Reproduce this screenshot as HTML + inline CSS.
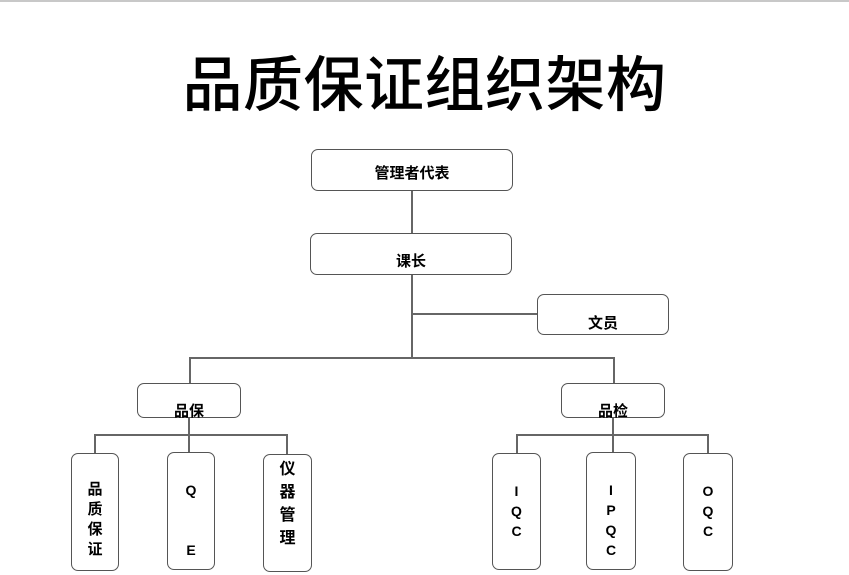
<!DOCTYPE html>
<html><head><meta charset="utf-8"><style>
body{margin:0;width:849px;height:575px;background:#fff;overflow:hidden;position:relative;font-family:"Liberation Sans","Noto Sans CJK SC",sans-serif}
.t{position:absolute;left:0;top:50px;width:849px;text-align:center;font-size:60px;line-height:62px;letter-spacing:0.5px;font-family:"Noto Sans CJK SC",sans-serif;font-weight:500}
.b{position:absolute;border:1.5px solid #555;border-radius:7px;box-sizing:border-box;background:#fff}
.l{position:absolute;background:#666}
.x{position:absolute;font-weight:bold;font-size:15px;text-align:center}
</style></head><body>
<div style="position:absolute;left:0;top:0;width:849px;height:2px;background:#c8c8c8"></div>
<div class="t">品质保证组织架构</div>
<div class="l" style="left:411px;top:191px;width:2px;height:42px"></div>
<div class="l" style="left:411px;top:275px;width:2px;height:84px"></div>
<div class="l" style="left:411px;top:313px;width:127px;height:2px"></div>
<div class="l" style="left:189px;top:357px;width:426px;height:2px"></div>
<div class="l" style="left:189px;top:357px;width:2px;height:26px"></div>
<div class="l" style="left:613px;top:357px;width:2px;height:26px"></div>
<div class="l" style="left:188px;top:418px;width:2px;height:35px"></div>
<div class="l" style="left:94px;top:434px;width:194px;height:2px"></div>
<div class="l" style="left:94px;top:434px;width:2px;height:20px"></div>
<div class="l" style="left:286px;top:434px;width:2px;height:20px"></div>
<div class="l" style="left:612px;top:418px;width:2px;height:35px"></div>
<div class="l" style="left:516px;top:434px;width:193px;height:2px"></div>
<div class="l" style="left:516px;top:434px;width:2px;height:20px"></div>
<div class="l" style="left:707px;top:434px;width:2px;height:20px"></div>
<div class="b" style="left:311px;top:149px;width:202px;height:42px"></div>
<div class="x" style="left:311px;top:162px;width:202px">管理者代表</div>
<div class="b" style="left:310px;top:233px;width:202px;height:42px"></div>
<div class="x" style="left:310px;top:250px;width:202px">课长</div>
<div class="b" style="left:537px;top:294px;width:132px;height:41px"></div>
<div class="x" style="left:537px;top:312px;width:132px">文员</div>
<div class="b" style="left:137px;top:383px;width:104px;height:35px"></div>
<div class="x" style="left:137px;top:400px;width:104px">品保</div>
<div class="b" style="left:561px;top:383px;width:104px;height:35px"></div>
<div class="x" style="left:561px;top:400px;width:104px">品检</div>
<div class="b" style="left:71px;top:453px;width:48px;height:118px"></div>
<div class="x" style="left:71px;top:480px;width:48px;line-height:20px">品<br>质<br>保<br>证</div>
<div class="b" style="left:167px;top:452px;width:48px;height:118px"></div>
<div class="x" style="left:167px;top:480px;width:48px;line-height:20px;font-size:14px">Q<br><br><br>E</div>
<div class="b" style="left:263px;top:454px;width:49px;height:118px"></div>
<div class="x" style="left:263px;top:458px;width:49px;line-height:23px;font-size:16px">仪<br>器<br>管<br>理</div>
<div class="b" style="left:492px;top:453px;width:49px;height:117px"></div>
<div class="x" style="left:492px;top:481px;width:49px;line-height:20px;font-size:14px">I<br>Q<br>C</div>
<div class="b" style="left:586px;top:452px;width:50px;height:118px"></div>
<div class="x" style="left:586px;top:480px;width:50px;line-height:20px;font-size:14px">I<br>P<br>Q<br>C</div>
<div class="b" style="left:683px;top:453px;width:50px;height:118px"></div>
<div class="x" style="left:683px;top:481px;width:50px;line-height:20px;font-size:14px">O<br>Q<br>C</div>
</body></html>
